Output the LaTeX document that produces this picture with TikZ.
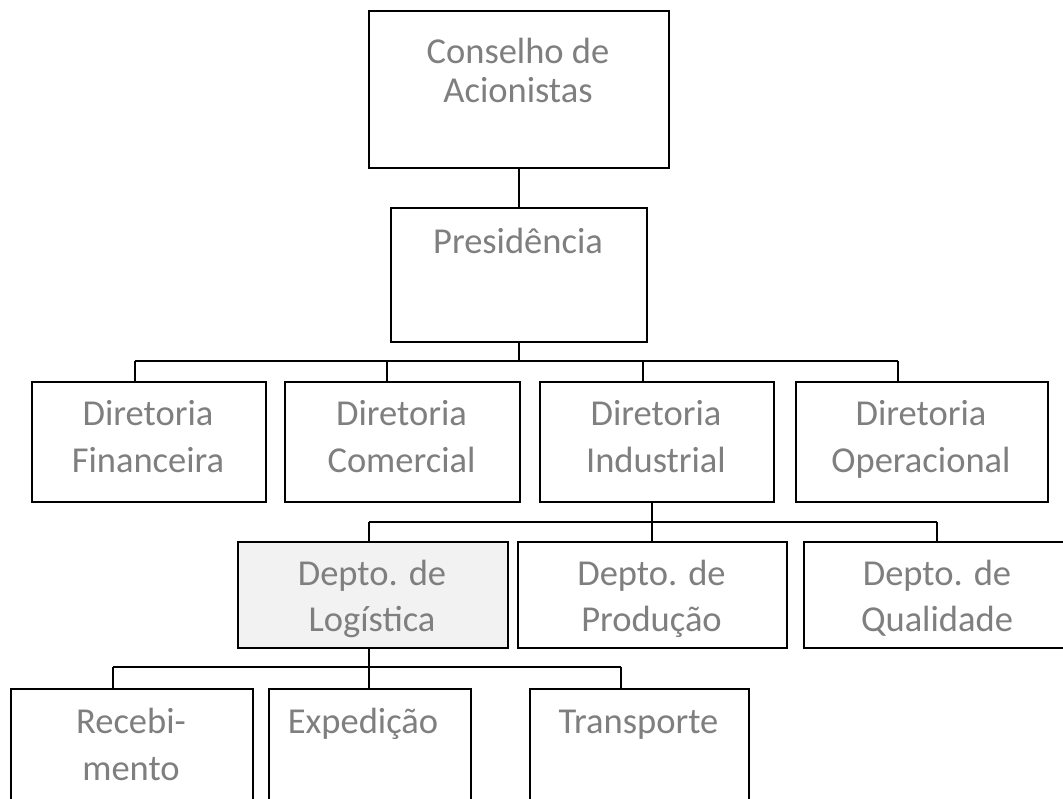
\documentclass[tikz,border=0pt]{standalone}
\usepackage{fontspec}
\setmainfont{Carlito}
\definecolor{txtgray}{HTML}{7F7F7F}
\definecolor{hilite}{HTML}{F2F2F2}
\begin{document}
\begin{tikzpicture}[x=1pt,y=-1pt,
  box/.style={draw=black, line width=2.2pt, fill=white, anchor=north west, inner sep=0pt},
  hlbox/.style={box, fill=hilite},
  txt/.style={text=txtgray, anchor=base, inner sep=0pt, font=\fontsize{36.5pt}{44pt}\selectfont},
  conn/.style={draw=black, line width=2.2pt}]
\useasboundingbox (0,0) rectangle (1063,798);
% boxes
\node[box, minimum width=300pt, minimum height=157pt] (cons) at (368,10) {};
\node[box, minimum width=256pt, minimum height=134pt] (pres) at (390,207) {};
\node[box, minimum width=234pt, minimum height=120pt] (fin) at (31,381) {};
\node[box, minimum width=235pt, minimum height=120pt] (com) at (284,381) {};
\node[box, minimum width=234pt, minimum height=120pt] (ind) at (539,381) {};
\node[box, minimum width=252pt, minimum height=120pt] (op) at (795,381) {};
\node[hlbox, minimum width=270pt, minimum height=106pt] (log) at (237,541) {};
\node[box, minimum width=269pt, minimum height=106pt] (prod) at (517,541) {};
\node[box, minimum width=269pt, minimum height=106pt] (qual) at (803,541) {};
\node[box, minimum width=242pt, minimum height=140pt] (rec) at (10,688) {};
\node[box, minimum width=202pt, minimum height=140pt] (exp) at (268,688) {};
\node[box, minimum width=219pt, minimum height=140pt] (tra) at (529,688) {};
% texts
\node[txt] (consA) at (518,63) {Conselho de};
\node[txt] (consB) at (518,102) {Acionistas};
\node[txt] (presA) at (518,253) {Presidência};
\node[txt] (finA) at (148,425) {Diretoria};
\node[txt] (finB) at (148,472) {Financeira};
\node[txt] (comA) at (401.5,425) {Diretoria};
\node[txt] (comB) at (401.5,472) {Comercial};
\node[txt] (indA) at (656,425) {Diretoria};
\node[txt] (indB) at (656,472) {Industrial};
\node[txt] (opA) at (921,425) {Diretoria};
\node[txt] (opB) at (921,472) {Operacional};
\node[txt] (logA) at (372,585) {Depto. de};
\node[txt] (logB) at (372,631) {Logística};
\node[txt] (prodA) at (651.5,585) {Depto. de};
\node[txt] (prodB) at (651.5,631) {Produção};
\node[txt] (qualA) at (937,585) {Depto. de};
\node[txt] (qualB) at (937,631) {Qualidade};
\node[txt] (recA) at (131,733) {Recebi-};
\node[txt] (recB) at (131,780) {mento};
\node[txt] (expA) at (363,733) {Expedição};
\node[txt] (traA) at (638.5,733) {Transporte};
% bus coordinates
\coordinate (b1l) at (135,361);
\coordinate (b1c) at (387,361);
\coordinate (b1d) at (643,361);
\coordinate (b1r) at (898,361);
\coordinate (b2l) at (369,522);
\coordinate (b2c) at (652,522);
\coordinate (b2r) at (937,522);
\coordinate (b3l) at (113,667);
\coordinate (b3c) at (369,667);
\coordinate (b3r) at (621,667);
% connectors
\draw[conn] (pres.north) -- (pres.north |- cons.south);
\draw[conn] (pres.south) -- (pres.south |- b1l);
\draw[conn] (b1l) -- (b1r);
\draw[conn] (b1l) -- (b1l |- fin.north);
\draw[conn] (b1c) -- (b1c |- com.north);
\draw[conn] (b1d) -- (b1d |- ind.north);
\draw[conn] (b1r) -- (b1r |- op.north);
\draw[conn] (b2c |- ind.south) -- (b2c);
\draw[conn] (b2l) -- (b2r);
\draw[conn] (b2l) -- (b2l |- log.north);
\draw[conn] (b2c) -- (b2c |- prod.north);
\draw[conn] (b2r) -- (b2r |- qual.north);
\draw[conn] (b3c |- log.south) -- (b3c);
\draw[conn] (b3l) -- (b3r);
\draw[conn] (b3l) -- (b3l |- rec.north);
\draw[conn] (b3c) -- (b3c |- exp.north);
\draw[conn] (b3r) -- (b3r |- tra.north);
\end{tikzpicture}
\end{document}
